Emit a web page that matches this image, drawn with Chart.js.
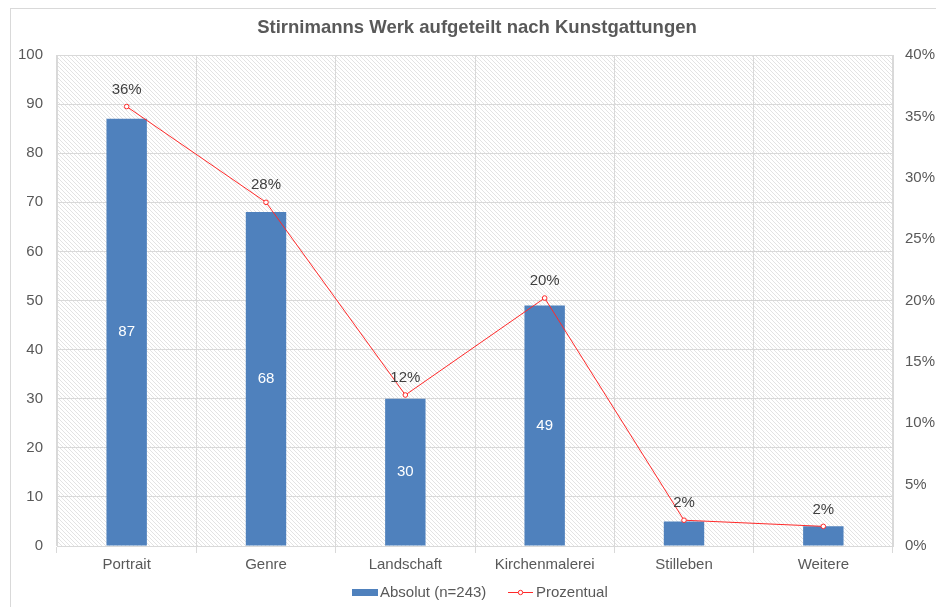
<!DOCTYPE html>
<html>
<head>
<meta charset="utf-8">
<script src="https://cdn.jsdelivr.net/npm/chart.js@4/dist/chart.umd.min.js"></script>
<style>
  html, body { margin: 0; padding: 0; background: #ffffff; }
  #wrap { position: relative; width: 936px; height: 607px; }
</style>
</head>
<body>
<div id="wrap"><canvas id="c" width="936" height="607"></canvas></div>
<script>
const chartTitle = "Stirnimanns Werk aufgeteilt nach Kunstgattungen";
const categories = ["Portrait", "Genre", "Landschaft", "Kirchenmalerei", "Stilleben", "Weitere"];
const absoluteValues = [87, 68, 30, 49, 5, 4];
const percentValues = [0.358, 0.280, 0.123, 0.202, 0.021, 0.016];
const percentLabels = ["36%", "28%", "12%", "20%", "2%", "2%"];
const seriesNames = ["Absolut (n=243)", "Prozentual"];

const FONT = "'Liberation Sans', Arial, sans-serif";
const BLUE = "#4F81BD";
const RED = "#FF2A2A";
const GRID = "#D9D9D9";
const TEXT = "#595959";

function makeHatch() {
  const t = document.createElement("canvas");
  t.width = 4; t.height = 4;
  const g = t.getContext("2d");
  g.fillStyle = "#ffffff";
  g.fillRect(0, 0, 4, 4);
  g.strokeStyle = "#DADADA";
  g.lineWidth = 0.75;
  g.beginPath();
  g.moveTo(-1, -1); g.lineTo(5, 5);
  g.moveTo(-1, 3); g.lineTo(1, 5);
  g.moveTo(3, -1); g.lineTo(5, 1);
  g.stroke();
  return g.createPattern(t, "repeat");
}

const decorPlugin = {
  id: "decor",
  beforeDraw(chart) {
    const ctx = chart.ctx;
    const a = chart.chartArea;
    ctx.save();
    ctx.fillStyle = "#ffffff";
    ctx.fillRect(0, 0, chart.width, chart.height);
    ctx.strokeStyle = GRID;
    ctx.lineWidth = 1;
    ctx.strokeRect(10.5, 8.5, chart.width + 20, chart.height + 20);
    ctx.fillStyle = makeHatch();
    ctx.fillRect(a.left, a.top, a.right - a.left, a.bottom - a.top);
    ctx.restore();
  },
  afterDraw(chart) {
    const ctx = chart.ctx;
    const a = chart.chartArea;
    ctx.save();
    ctx.fillStyle = "#595959";
    ctx.font = "bold 18.5px " + FONT;
    ctx.textAlign = "center";
    ctx.textBaseline = "middle";
    ctx.fillText(chartTitle, (a.left + a.right) / 2 + 2, 28);

    ctx.font = "15px " + FONT;
    const barMeta = chart.getDatasetMeta(1);
    ctx.fillStyle = "#ffffff";
    barMeta.data.forEach((el, i) => {
      if (absoluteValues[i] < 20) return;
      const y = (el.y + el.base) / 2;
      ctx.fillText(String(absoluteValues[i]), el.x, y);
    });
    const lineMeta = chart.getDatasetMeta(0);
    ctx.fillStyle = "#404040";
    lineMeta.data.forEach((el, i) => {
      ctx.fillText(percentLabels[i], el.x, el.y - 17);
    });

    const ly = 592;
    ctx.textAlign = "left";
    ctx.fillStyle = BLUE;
    ctx.fillRect(352, ly - 3, 26, 7);
    ctx.fillStyle = TEXT;
    ctx.font = "15px " + FONT;
    ctx.fillText(seriesNames[0], 380, ly + 1);
    ctx.strokeStyle = RED;
    ctx.lineWidth = 1;
    ctx.beginPath();
    ctx.moveTo(508, ly + 0.5); ctx.lineTo(533, ly + 0.5);
    ctx.stroke();
    ctx.fillStyle = "#ffffff";
    ctx.beginPath();
    ctx.arc(520.5, ly + 0.5, 2.2, 0, Math.PI * 2);
    ctx.fill(); ctx.stroke();
    ctx.fillStyle = TEXT;
    ctx.fillText(seriesNames[1], 536, ly + 1);
    ctx.restore();
  }
};

new Chart(document.getElementById("c"), {
  data: {
    labels: categories,
    datasets: [
      {
        type: "line",
        label: seriesNames[1],
        data: percentValues,
        yAxisID: "y2",
        borderColor: RED,
        borderWidth: 1,
        pointRadius: 2.3,
        pointBackgroundColor: "#ffffff",
        pointBorderColor: RED,
        pointBorderWidth: 1,
        tension: 0,
        order: 0
      },
      {
        type: "bar",
        label: seriesNames[0],
        data: absoluteValues,
        yAxisID: "y",
        backgroundColor: BLUE,
        borderWidth: 0,
        categoryPercentage: 1.0,
        barPercentage: 0.29,
        order: 1
      }
    ]
  },
  options: {
    responsive: false,
    animation: false,
    devicePixelRatio: 1,
    layout: { padding: { top: 55, left: 0, right: 0, bottom: 0 } },
    plugins: {
      legend: { display: false },
      title: { display: false },
      tooltip: { enabled: false }
    },
    scales: {
      x: {
        offset: true,
        grid: {
          offset: true,
          color: GRID,
          lineWidth: 1,
          drawTicks: true,
          tickLength: 7,
          tickColor: GRID
        },
        border: { display: true, color: GRID },
        ticks: {
          color: TEXT,
          font: { family: FONT, size: 15 },
          padding: 3,
          maxRotation: 0
        },
        afterFit(s) { s.height = 61; }
      },
      y: {
        position: "left",
        min: 0, max: 100,
        grid: { color: GRID, drawTicks: false },
        border: { display: true, color: GRID },
        ticks: {
          stepSize: 10,
          color: TEXT,
          font: { family: FONT, size: 15 },
          padding: 14
        },
        afterFit(s) { s.width = 57; }
      },
      y2: {
        position: "right",
        min: 0, max: 0.4,
        grid: { drawOnChartArea: false, drawTicks: false },
        border: { display: true, color: GRID },
        ticks: {
          stepSize: 0.05,
          color: TEXT,
          font: { family: FONT, size: 15 },
          padding: 12,
          callback: v => Math.round(v * 100) + "%"
        },
        afterFit(s) { s.width = 43; }
      }
    }
  },
  plugins: [decorPlugin]
});
</script>
</body>
</html>
